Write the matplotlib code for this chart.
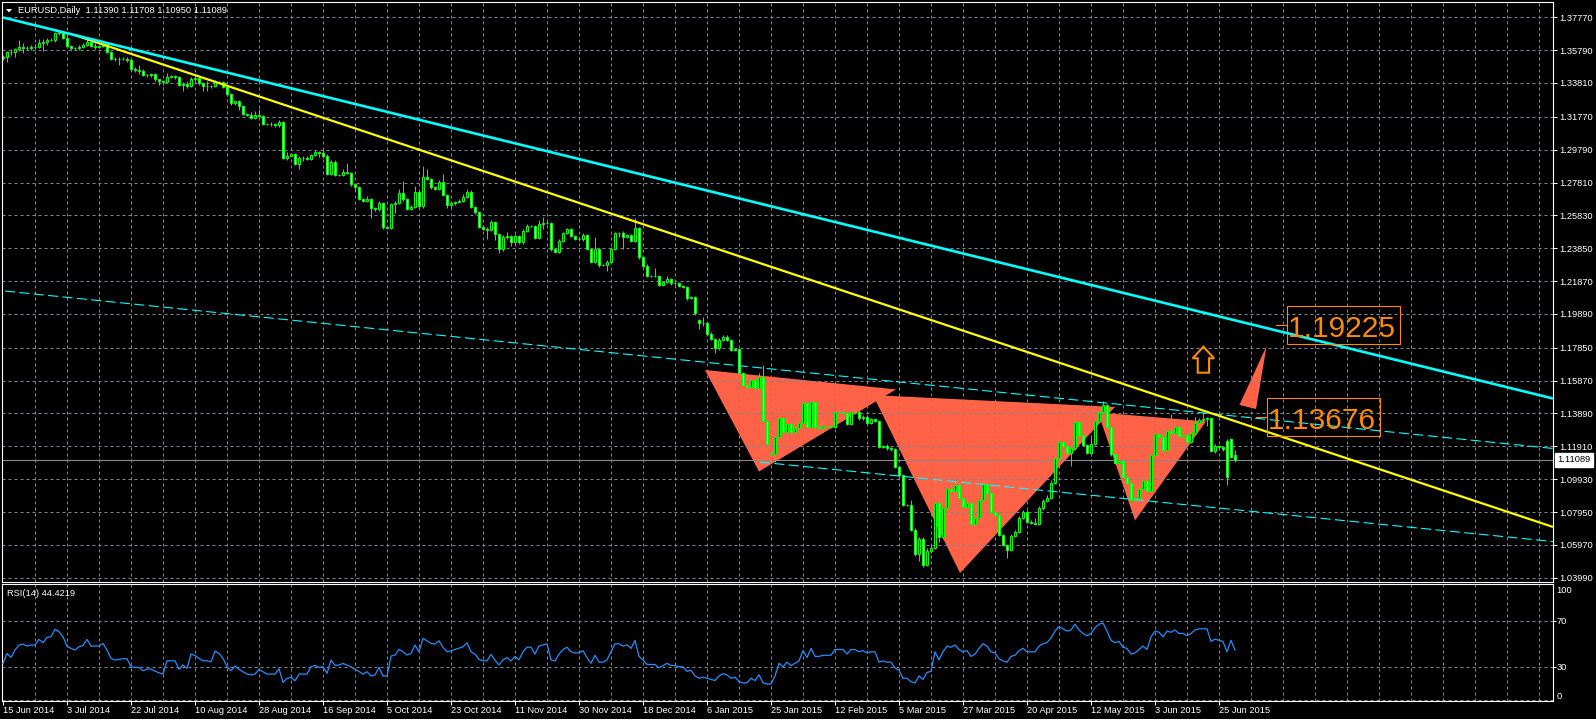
import numpy as np
import matplotlib
matplotlib.use('Agg')
import matplotlib.pyplot as plt
from matplotlib.patches import Polygon, Rectangle
from matplotlib.transforms import IdentityTransform

plt.rcParams['font.family'] = ['Liberation Sans', 'DejaVu Sans']

W, H = 1596, 719
GRID = '#778899'
CANDLE = '#00ff00'
ORANGE = '#ff8c00'

# EURUSD daily bars, 15 Jun 2014 .. end Jun 2015 (broker with Sunday bars)
opens = [
    1.3530, 1.3536, 1.3566, 1.3570, 1.3586, 1.3598, 1.3594, 1.3590, 1.3596, 1.3600,
    1.3620, 1.3626, 1.3640, 1.3640, 1.3680, 1.3686, 1.3654, 1.3604, 1.3590, 1.3590,
    1.3596, 1.3610, 1.3630, 1.3606, 1.3600, 1.3602, 1.3614, 1.3570, 1.3524, 1.3526,
    1.3526, 1.3526, 1.3522, 1.3465, 1.3459, 1.3455, 1.3429, 1.3427, 1.3433, 1.3403,
    1.3393, 1.3389, 1.3419, 1.3421, 1.3419, 1.3369, 1.3375, 1.3363, 1.3405, 1.3409,
    1.3379, 1.3365, 1.3363, 1.3361, 1.3389, 1.3385, 1.3359, 1.3313, 1.3258, 1.3272,
    1.3244, 1.3196, 1.3188, 1.3172, 1.3188, 1.3184, 1.3132, 1.3132, 1.3134, 1.3128,
    1.3144, 1.2931, 1.2943, 1.2951, 1.2891, 1.2927, 1.2931, 1.2923, 1.2947, 1.2963,
    1.2957, 1.2941, 1.2833, 1.2907, 1.2826, 1.2826, 1.2842, 1.2840, 1.2770, 1.2756,
    1.2680, 1.2672, 1.2684, 1.2625, 1.2619, 1.2659, 1.2511, 1.2505, 1.2649, 1.2659,
    1.2720, 1.2680, 1.2623, 1.2635, 1.2726, 1.2639, 1.2816, 1.2804, 1.2752, 1.2742,
    1.2786, 1.2706, 1.2643, 1.2655, 1.2661, 1.2672, 1.2692, 1.2726, 1.2631, 1.2601,
    1.2515, 1.2503, 1.2495, 1.2545, 1.2470, 1.2378, 1.2450, 1.2458, 1.2422, 1.2460,
    1.2420, 1.2489, 1.2519, 1.2519, 1.2446, 1.2529, 1.2535, 1.2539, 1.2378, 1.2364,
    1.2430, 1.2475, 1.2499, 1.2458, 1.2442, 1.2438, 1.2462, 1.2380, 1.2304, 1.2378,
    1.2284, 1.2284, 1.2302, 1.2382, 1.2475, 1.2475, 1.2451, 1.2465, 1.2431, 1.2505,
    1.2330, 1.2280, 1.2218, 1.2218, 1.2218, 1.2163, 1.2181, 1.2198, 1.2173, 1.2173,
    1.2157, 1.2153, 1.2083, 1.2089, 1.1950, 1.1932, 1.1936, 1.1868, 1.1836, 1.1786,
    1.1832, 1.1852, 1.1832, 1.1772, 1.1776, 1.1631, 1.1561, 1.1550, 1.1591, 1.1540,
    1.1611, 1.1343, 1.1150, 1.1144, 1.1245, 1.1360, 1.1275, 1.1325, 1.1275, 1.1303,
    1.1329, 1.1450, 1.1309, 1.1460, 1.1309, 1.1299, 1.1313, 1.1313, 1.1309, 1.1396,
    1.1396, 1.1390, 1.1325, 1.1396, 1.1396, 1.1360, 1.1370, 1.1333, 1.1354, 1.1345,
    1.1189, 1.1193, 1.1179, 1.1173, 1.1068, 1.1018, 1.0837, 1.0837, 1.0686, 1.0539,
    1.0632, 1.0475, 1.0561, 1.0576, 1.0851, 1.0646, 1.0817, 1.0931, 1.0923, 1.0958,
    1.0877, 1.0827, 1.0851, 1.0720, 1.0757, 1.0867, 1.0964, 1.0911, 1.0797, 1.0777,
    1.0656, 1.0596, 1.0566, 1.0650, 1.0676, 1.0757, 1.0797, 1.0736, 1.0730, 1.0722,
    1.0817, 1.0863, 1.0881, 1.0972, 1.1118, 1.1219, 1.1193, 1.1149, 1.1179, 1.1339,
    1.1259, 1.1199, 1.1153, 1.1205, 1.1345, 1.1400, 1.1440, 1.1309, 1.1142, 1.1092,
    1.1104, 1.1008, 1.0972, 1.0867, 1.0877, 1.0931, 1.0984, 1.0923, 1.1138, 1.1265,
    1.1249, 1.1169, 1.1285, 1.1273, 1.1309, 1.1253, 1.1259, 1.1219, 1.1269, 1.1329,
    1.1350, 1.1354, 1.1360, 1.1163, 1.1193, 1.1185, 1.1225, 1.1233, 1.11390,
]
highs = [
    1.3548, 1.3575, 1.3585, 1.3594, 1.3640, 1.3625, 1.3605, 1.3612, 1.3618, 1.3645,
    1.3648, 1.3652, 1.3650, 1.3690, 1.3700, 1.3692, 1.3670, 1.3612, 1.3600, 1.3608,
    1.3622, 1.3645, 1.3648, 1.3625, 1.3612, 1.3622, 1.3620, 1.3575, 1.3535, 1.3540,
    1.3535, 1.3540, 1.3528, 1.3475, 1.3488, 1.3468, 1.3436, 1.3442, 1.3440, 1.3408,
    1.3400, 1.3440, 1.3430, 1.3430, 1.3424, 1.3384, 1.3392, 1.3415, 1.3418, 1.3412,
    1.3385, 1.3396, 1.3370, 1.3400, 1.3395, 1.3390, 1.3365, 1.3318, 1.3280, 1.3278,
    1.3250, 1.3200, 1.3205, 1.3210, 1.3222, 1.3190, 1.3140, 1.3145, 1.3140, 1.3160,
    1.3150, 1.2968, 1.2958, 1.2958, 1.2938, 1.2942, 1.2940, 1.2955, 1.2978, 1.2972,
    1.2977, 1.2950, 1.2917, 1.2918, 1.2832, 1.2860, 1.2897, 1.2845, 1.2775, 1.2762,
    1.2685, 1.2700, 1.2690, 1.2632, 1.2668, 1.2665, 1.2512, 1.2660, 1.2668, 1.2740,
    1.2790, 1.2688, 1.2645, 1.2760, 1.2735, 1.2880, 1.2860, 1.2810, 1.2760, 1.2795,
    1.2835, 1.2712, 1.2668, 1.2670, 1.2680, 1.2712, 1.2745, 1.2735, 1.2638, 1.2608,
    1.2525, 1.2510, 1.2555, 1.2550, 1.2478, 1.2462, 1.2480, 1.2465, 1.2470, 1.2465,
    1.2500, 1.2532, 1.2528, 1.2525, 1.2555, 1.2575, 1.2550, 1.2545, 1.2380, 1.2440,
    1.2485, 1.2508, 1.2505, 1.2465, 1.2450, 1.2475, 1.2468, 1.2385, 1.2455, 1.2385,
    1.2290, 1.2312, 1.2392, 1.2485, 1.2485, 1.2490, 1.2472, 1.2472, 1.2570, 1.2512,
    1.2338, 1.2288, 1.2225, 1.2265, 1.2225, 1.2190, 1.2220, 1.2205, 1.2180, 1.2180,
    1.2165, 1.2160, 1.2095, 1.2095, 1.1960, 1.1970, 1.1940, 1.1880, 1.1842, 1.1845,
    1.1862, 1.1860, 1.1840, 1.1785, 1.1780, 1.1638, 1.1565, 1.1600, 1.1595, 1.1630,
    1.1680, 1.1350, 1.1160, 1.1270, 1.1425, 1.1368, 1.1360, 1.1335, 1.1320, 1.1345,
    1.1535, 1.1460, 1.1472, 1.1470, 1.1320, 1.1335, 1.1325, 1.1325, 1.1405, 1.1408,
    1.1430, 1.1398, 1.1410, 1.1410, 1.1410, 1.1378, 1.1380, 1.1362, 1.1362, 1.1352,
    1.1200, 1.1205, 1.1185, 1.1180, 1.1075, 1.1025, 1.0845, 1.0870, 1.0700, 1.0645,
    1.0645, 1.0580, 1.0600, 1.1043, 1.0890, 1.0825, 1.0945, 1.0990, 1.0985, 1.0965,
    1.0885, 1.0880, 1.0858, 1.0768, 1.0880, 1.0980, 1.1000, 1.0918, 1.0805, 1.0785,
    1.0660, 1.0605, 1.0660, 1.0685, 1.0770, 1.0810, 1.0805, 1.0745, 1.0760, 1.0830,
    1.0875, 1.0895, 1.0985, 1.1130, 1.1290, 1.1230, 1.1200, 1.1190, 1.1390, 1.1345,
    1.1265, 1.1205, 1.1260, 1.1355, 1.1420, 1.1467, 1.1448, 1.1315, 1.1150, 1.1140,
    1.1112, 1.1015, 1.0980, 1.0885, 1.0940, 1.1000, 1.0990, 1.1150, 1.1275, 1.1270,
    1.1255, 1.1300, 1.1385, 1.1325, 1.1315, 1.1268, 1.1265, 1.1278, 1.1365, 1.1360,
    1.1400, 1.1370, 1.1368, 1.1205, 1.1200, 1.1190, 1.1235, 1.1240, 1.11708,
]
lows = [
    1.3522, 1.3505, 1.3550, 1.3540, 1.3575, 1.3562, 1.3580, 1.3582, 1.3585, 1.3590,
    1.3575, 1.3608, 1.3632, 1.3630, 1.3668, 1.3645, 1.3595, 1.3580, 1.3582, 1.3578,
    1.3590, 1.3604, 1.3598, 1.3585, 1.3594, 1.3596, 1.3562, 1.3518, 1.3515, 1.3488,
    1.3518, 1.3505, 1.3458, 1.3448, 1.3436, 1.3422, 1.3420, 1.3420, 1.3395, 1.3370,
    1.3367, 1.3382, 1.3412, 1.3405, 1.3362, 1.3333, 1.3352, 1.3358, 1.3396, 1.3370,
    1.3333, 1.3333, 1.3352, 1.3355, 1.3378, 1.3350, 1.3305, 1.3250, 1.3248, 1.3218,
    1.3188, 1.3180, 1.3165, 1.3165, 1.3175, 1.3125, 1.3125, 1.3122, 1.3118, 1.3118,
    1.2920, 1.2918, 1.2940, 1.2884, 1.2860, 1.2912, 1.2915, 1.2918, 1.2940, 1.2935,
    1.2930, 1.2828, 1.2826, 1.2820, 1.2818, 1.2820, 1.2830, 1.2762, 1.2730, 1.2675,
    1.2665, 1.2665, 1.2570, 1.2610, 1.2612, 1.2500, 1.2500, 1.2500, 1.2600, 1.2652,
    1.2672, 1.2615, 1.2615, 1.2628, 1.2625, 1.2625, 1.2795, 1.2745, 1.2735, 1.2735,
    1.2698, 1.2625, 1.2625, 1.2645, 1.2655, 1.2665, 1.2688, 1.2625, 1.2590, 1.2505,
    1.2495, 1.2440, 1.2488, 1.2432, 1.2358, 1.2370, 1.2440, 1.2400, 1.2410, 1.2410,
    1.2412, 1.2480, 1.2510, 1.2438, 1.2440, 1.2500, 1.2530, 1.2370, 1.2355, 1.2358,
    1.2422, 1.2468, 1.2450, 1.2435, 1.2430, 1.2430, 1.2372, 1.2295, 1.2298, 1.2270,
    1.2278, 1.2245, 1.2295, 1.2375, 1.2455, 1.2379, 1.2445, 1.2420, 1.2425, 1.2322,
    1.2272, 1.2210, 1.2212, 1.2210, 1.2160, 1.2160, 1.2175, 1.2165, 1.2165, 1.2150,
    1.2145, 1.2075, 1.2078, 1.1985, 1.1900, 1.1918, 1.1860, 1.1830, 1.1755, 1.1770,
    1.1826, 1.1825, 1.1765, 1.1765, 1.1625, 1.1555, 1.1545, 1.1545, 1.1535, 1.1535,
    1.1335, 1.1198, 1.1098, 1.1098, 1.1235, 1.1262, 1.1268, 1.1265, 1.1268, 1.1295,
    1.1320, 1.1300, 1.1300, 1.1295, 1.1290, 1.1280, 1.1305, 1.1300, 1.1300, 1.1388,
    1.1380, 1.1318, 1.1318, 1.1385, 1.1352, 1.1350, 1.1325, 1.1325, 1.1335, 1.1180,
    1.1182, 1.1170, 1.1165, 1.1060, 1.1000, 1.0830, 1.0830, 1.0680, 1.0530, 1.0500,
    1.0462, 1.0468, 1.0545, 1.0570, 1.0615, 1.0630, 1.0810, 1.0915, 1.0915, 1.0868,
    1.0820, 1.0820, 1.0712, 1.0715, 1.0750, 1.0858, 1.0905, 1.0790, 1.0770, 1.0650,
    1.0590, 1.0520, 1.0560, 1.0645, 1.0670, 1.0750, 1.0730, 1.0722, 1.0715, 1.0715,
    1.0810, 1.0855, 1.0875, 1.0965, 1.1110, 1.1185, 1.1140, 1.1075, 1.1170, 1.1250,
    1.1190, 1.1145, 1.1145, 1.1198, 1.1335, 1.1392, 1.1300, 1.1135, 1.1085, 1.1080,
    1.1000, 1.0965, 1.0860, 1.0818, 1.0870, 1.0925, 1.0915, 1.0915, 1.1130, 1.1240,
    1.1160, 1.1160, 1.1265, 1.1265, 1.1245, 1.1248, 1.1210, 1.1212, 1.1262, 1.1322,
    1.1342, 1.1315, 1.1155, 1.1150, 1.1175, 1.1165, 1.0955, 1.1120, 1.10950,
]
closes = [
    1.3536, 1.3566, 1.3570, 1.3586, 1.3598, 1.3594, 1.3590, 1.3596, 1.3600, 1.3620,
    1.3626, 1.3640, 1.3640, 1.3680, 1.3686, 1.3654, 1.3604, 1.3590, 1.3590, 1.3596,
    1.3610, 1.3630, 1.3606, 1.3600, 1.3602, 1.3614, 1.3570, 1.3524, 1.3526, 1.3526,
    1.3526, 1.3522, 1.3465, 1.3459, 1.3455, 1.3429, 1.3427, 1.3433, 1.3403, 1.3393,
    1.3389, 1.3419, 1.3421, 1.3419, 1.3369, 1.3375, 1.3363, 1.3405, 1.3409, 1.3379,
    1.3365, 1.3363, 1.3361, 1.3389, 1.3385, 1.3359, 1.3313, 1.3258, 1.3272, 1.3244,
    1.3196, 1.3188, 1.3172, 1.3188, 1.3184, 1.3132, 1.3132, 1.3134, 1.3128, 1.3144,
    1.2931, 1.2943, 1.2951, 1.2891, 1.2927, 1.2931, 1.2923, 1.2947, 1.2963, 1.2957,
    1.2941, 1.2833, 1.2907, 1.2826, 1.2826, 1.2842, 1.2840, 1.2770, 1.2756, 1.2680,
    1.2672, 1.2684, 1.2625, 1.2619, 1.2659, 1.2511, 1.2505, 1.2649, 1.2659, 1.2720,
    1.2680, 1.2623, 1.2635, 1.2726, 1.2639, 1.2816, 1.2804, 1.2752, 1.2742, 1.2786,
    1.2706, 1.2643, 1.2655, 1.2661, 1.2672, 1.2692, 1.2726, 1.2631, 1.2601, 1.2515,
    1.2503, 1.2495, 1.2545, 1.2470, 1.2378, 1.2450, 1.2458, 1.2422, 1.2460, 1.2420,
    1.2489, 1.2519, 1.2519, 1.2446, 1.2529, 1.2535, 1.2539, 1.2378, 1.2364, 1.2430,
    1.2475, 1.2499, 1.2458, 1.2442, 1.2438, 1.2462, 1.2380, 1.2304, 1.2378, 1.2284,
    1.2284, 1.2302, 1.2382, 1.2475, 1.2475, 1.2451, 1.2465, 1.2431, 1.2505, 1.2330,
    1.2280, 1.2218, 1.2218, 1.2218, 1.2163, 1.2181, 1.2198, 1.2173, 1.2173, 1.2157,
    1.2153, 1.2083, 1.2089, 1.1993, 1.1932, 1.1936, 1.1868, 1.1836, 1.1786, 1.1832,
    1.1852, 1.1832, 1.1772, 1.1776, 1.1631, 1.1561, 1.1550, 1.1591, 1.1540, 1.1611,
    1.1343, 1.1203, 1.1144, 1.1245, 1.1360, 1.1275, 1.1325, 1.1275, 1.1303, 1.1329,
    1.1450, 1.1309, 1.1460, 1.1309, 1.1299, 1.1313, 1.1313, 1.1309, 1.1396, 1.1396,
    1.1390, 1.1325, 1.1396, 1.1396, 1.1360, 1.1370, 1.1333, 1.1354, 1.1345, 1.1189,
    1.1193, 1.1179, 1.1173, 1.1068, 1.1018, 1.0837, 1.0837, 1.0686, 1.0539, 1.0632,
    1.0475, 1.0561, 1.0576, 1.0851, 1.0646, 1.0817, 1.0931, 1.0923, 1.0958, 1.0877,
    1.0827, 1.0851, 1.0720, 1.0757, 1.0867, 1.0964, 1.0911, 1.0797, 1.0777, 1.0656,
    1.0596, 1.0566, 1.0650, 1.0676, 1.0757, 1.0797, 1.0736, 1.0730, 1.0722, 1.0817,
    1.0863, 1.0881, 1.0972, 1.1118, 1.1219, 1.1193, 1.1149, 1.1179, 1.1339, 1.1259,
    1.1199, 1.1153, 1.1205, 1.1345, 1.1400, 1.1440, 1.1309, 1.1142, 1.1092, 1.1104,
    1.1008, 1.0972, 1.0867, 1.0877, 1.0931, 1.0984, 1.0923, 1.1138, 1.1265, 1.1249,
    1.1169, 1.1285, 1.1273, 1.1309, 1.1253, 1.1259, 1.1219, 1.1269, 1.1329, 1.1350,
    1.1354, 1.1360, 1.1163, 1.1193, 1.1185, 1.1173, 1.1004, 1.1128, 1.11089,
]
rsi = [
    32.9, 41.6, 38.1, 44.5, 48.9, 49.7, 48.0, 48.9, 48.9, 53.8,
    50.9, 55.5, 56.1, 62.5, 60.5, 56.1, 48.0, 46.0, 44.5, 47.4,
    48.6, 53.8, 48.0, 48.0, 48.0, 50.3, 44.5, 37.3, 35.8, 36.4,
    37.0, 37.0, 30.0, 29.4, 29.4, 26.5, 28.0, 28.0, 26.2, 24.8,
    23.6, 35.2, 35.2, 35.2, 27.7, 31.5, 28.6, 41.0, 39.9, 37.3,
    35.2, 35.2, 34.3, 43.6, 41.6, 37.3, 30.0, 26.5, 30.6, 27.7,
    25.7, 23.6, 23.0, 23.6, 27.7, 25.7, 23.6, 23.6, 23.6, 28.3,
    16.4, 19.9, 20.7, 17.8, 23.6, 23.6, 23.6, 30.0, 31.2, 29.4,
    30.0, 24.2, 35.8, 31.2, 31.5, 32.9, 31.5, 30.0, 27.7, 25.9,
    23.6, 25.7, 21.9, 22.8, 29.4, 21.9, 21.9, 39.3, 40.2, 45.1,
    43.0, 40.2, 41.6, 48.9, 43.0, 54.7, 52.6, 50.3, 49.7, 52.6,
    46.8, 43.0, 43.9, 45.1, 46.2, 47.4, 50.9, 43.0, 41.0, 36.4,
    35.2, 35.2, 40.7, 35.8, 31.5, 36.0, 38.0, 35.0, 39.0, 36.0,
    43.0, 47.0, 47.0, 41.0, 48.0, 49.0, 50.0, 36.0, 35.0, 41.0,
    45.0, 47.0, 43.0, 42.0, 42.0, 44.0, 38.0, 33.0, 40.0, 34.0,
    34.0, 36.0, 43.0, 50.0, 50.0, 48.0, 49.0, 46.0, 53.0, 39.0,
    36.0, 32.0, 32.0, 32.0, 29.0, 31.0, 33.0, 31.0, 31.0, 30.0,
    30.0, 26.0, 27.0, 22.0, 20.0, 21.0, 20.0, 19.0, 18.0, 22.0,
    24.0, 23.0, 20.0, 21.0, 17.0, 16.0, 16.0, 20.0, 18.0, 23.0,
    16.0, 15.0, 15.0, 22.0, 33.0, 30.0, 34.0, 31.0, 33.0, 35.0,
    44.0, 38.0, 46.0, 39.0, 39.0, 40.0, 40.0, 40.0, 45.0, 45.0,
    45.0, 41.0, 45.0, 45.0, 43.0, 44.0, 42.0, 43.0, 43.0, 34.0,
    35.0, 34.0, 34.0, 29.0, 27.0, 20.0, 20.0, 17.0, 16.0, 22.0,
    19.0, 25.0, 26.0, 43.0, 36.0, 43.0, 48.0, 47.0, 49.0, 45.0,
    43.0, 44.0, 39.0, 41.0, 46.0, 50.0, 48.0, 43.0, 42.0, 37.0,
    35.0, 34.0, 39.0, 40.0, 44.0, 46.0, 43.0, 43.0, 43.0, 48.0,
    50.0, 51.0, 55.0, 61.0, 65.0, 63.0, 61.0, 62.0, 67.0, 62.0,
    59.0, 57.0, 59.0, 64.0, 67.0, 68.0, 61.0, 53.0, 51.0, 52.0,
    47.0, 46.0, 41.0, 42.0, 45.0, 48.0, 45.0, 56.0, 61.0, 60.0,
    56.0, 61.0, 60.0, 62.0, 59.0, 59.0, 57.0, 59.0, 62.0, 63.0,
    63.0, 63.0, 52.0, 54.0, 53.0, 52.0, 43.0, 53.0, 44.4219,
]

date_labels = ['15 Jun 2014', '3 Jul 2014', '22 Jul 2014', '10 Aug 2014', '28 Aug 2014',
               '16 Sep 2014', '5 Oct 2014', '23 Oct 2014', '11 Nov 2014', '30 Nov 2014',
               '18 Dec 2014', '6 Jan 2015', '25 Jan 2015', '12 Feb 2015', '5 Mar 2015',
               '27 Mar 2015', '20 Apr 2015', '12 May 2015', '3 Jun 2015', '25 Jun 2015']
price_ticks = [1.37770, 1.35790, 1.33810, 1.31770, 1.29790, 1.27810, 1.25830, 1.23850, 1.21870,
               1.19890, 1.17850, 1.15870, 1.13890, 1.11910, 1.09930, 1.07950, 1.05970, 1.03990]
rsi_levels = [70, 30]

# chart objects: (bar index, price) anchors
cyan_line = [(0, 1.3776), (387.5, 1.1479)]
yellow_line = [(18, 1.3669), (387.5, 1.0705)]
channel_upper = [(0.5, 1.2127), (387.5, 1.1178)]
channel_lower = [(189.25, 1.1096), (387.5, 1.0617)]
triangles = [
    [(175.5, 1.1651), (189.0, 1.1039), (223.25, 1.1534)],
    [(217.5, 1.1500), (239.25, 1.0427), (278.0, 1.1428)],
    [(273.75, 1.1395), (283.0, 1.0744), (300.75, 1.1341)],
    [(315.9, 1.1796), (309.1, 1.1440), (313.25, 1.1416)],
]
price_labels = [1.19225, 1.13676]
price_label_bars = [318.25, 313.25]
arrow_bar, arrow_top, arrow_neck, arrow_bottom = 300.1, 1.17914, 1.17215, 1.16348

fig = plt.figure(figsize=(W / 100, H / 100), dpi=100, facecolor='black')


def box(x0, y0, x1, y1):
    return [x0 / W, 1 - y1 / H, (x1 - x0) / W, (y1 - y0) / H]


ax = fig.add_axes(box(2, 2, 1553, 582))
ax_rsi = fig.add_axes(box(2, 584, 1553, 701))

dash = (0, (3, 3))
for a in (ax, ax_rsi):
    a.set_facecolor('black')
    for s in a.spines.values():
        s.set_color('white')
        s.set_linewidth(0.8)
    a.set_xlim(-0.25, 387.5)
    for b in range(8, 388, 8):
        a.axvline(b, color=GRID, lw=0.72, ls=dash, zorder=0.5)

# price panel
ax.set_ylim(1.03731, 1.38692)
ax.set_xticks([])
ax.yaxis.tick_right()
ax.set_yticks(price_ticks)
ax.set_yticklabels(['%.5f' % p for p in price_ticks])
ax.tick_params(axis='y', length=2.9, width=0.72, color='white', labelcolor='white',
               labelsize=6.7, pad=1.5)
for p in price_ticks:
    ax.axhline(p, color=GRID, lw=0.72, ls=dash, zorder=0.5)

for tri in triangles:
    ax.add_patch(Polygon(tri, closed=True, facecolor='#ff6347', edgecolor='none', zorder=0.2))

ax.axhline(closes[-1], color='#8a8a8a', lw=0.8, zorder=1)

x = np.arange(len(closes))
o, h, l, c = (np.array(v) for v in (opens, highs, lows, closes))
ax.vlines(x, l, h, color=CANDLE, lw=0.72, zorder=2)
fill = np.where(c < o, 'white', 'black')
ax.bar(x, np.abs(c - o), bottom=np.minimum(o, c), width=0.62, color=fill,
       edgecolor=CANDLE, linewidth=0.72, zorder=2.2)

for ln in (channel_upper, channel_lower):
    ax.plot([ln[0][0], ln[1][0]], [ln[0][1], ln[1][1]], color='#00ffff', lw=0.8,
            ls=(0, (9, 4)), zorder=3)
ax.plot([yellow_line[0][0], yellow_line[1][0]], [yellow_line[0][1], yellow_line[1][1]],
        color='#ffff00', lw=1.6, zorder=3.2, solid_capstyle='butt')
ax.plot([cyan_line[0][0], cyan_line[1][0]], [cyan_line[0][1], cyan_line[1][1]],
        color='#00ffff', lw=1.9, zorder=3.4, solid_capstyle='butt')

# up arrow symbol
hw, sw = 2.67, 1.42
arrow = [(arrow_bar, arrow_top), (arrow_bar + hw, arrow_neck), (arrow_bar + sw, arrow_neck),
         (arrow_bar + sw, arrow_bottom), (arrow_bar - sw, arrow_bottom),
         (arrow_bar - sw, arrow_neck), (arrow_bar - hw, arrow_neck)]
ax.add_patch(Polygon(arrow, closed=True, fill=False, edgecolor=ORANGE, lw=1.5, zorder=4))

# price label objects
for p, b in zip(price_labels, price_label_bars):
    ax.plot([b, b + 2.65], [p, p], color=ORANGE, lw=0.8, zorder=4)
    ax.add_patch(Rectangle((b + 2.65, p - 0.0114), 28.3, 0.0228, fill=False,
                           edgecolor=ORANGE, lw=0.8, zorder=4))
    ax.text(b + 3.05, p - 0.0072, '%.5f' % p, color=ORANGE, fontsize=21.5,
            ha='left', va='baseline', zorder=5)

ax.text(1.0026, closes[-1], '%.5f' % closes[-1], transform=ax.get_yaxis_transform(),
        color='black', fontsize=6.7, ha='left', va='center', clip_on=False,
        bbox=dict(boxstyle='square,pad=0.25', fc='white', ec='white'))

# RSI panel
ax_rsi.set_ylim(0.2, 102)
ax_rsi.plot(x, rsi, color='#1e90ff', lw=0.9, zorder=3)
for lv in rsi_levels + [1]:
    ax_rsi.axhline(lv, color=GRID, lw=0.72, ls=dash, zorder=0.5)
ax_rsi.yaxis.tick_right()
ax_rsi.set_yticks(rsi_levels)
ax_rsi.set_yticklabels([str(v) for v in rsi_levels])
ax_rsi.tick_params(axis='y', length=2.2, width=0.72, color='white', labelcolor='white',
                   labelsize=6.7, pad=0.5)
ax_rsi.text(1.0024, 100, '100', transform=ax_rsi.get_yaxis_transform(), color='white',
            fontsize=6.7, ha='left', va='top', clip_on=False)
ax_rsi.text(1.0024, 0.5, '0', transform=ax_rsi.get_yaxis_transform(), color='white',
            fontsize=6.7, ha='left', va='bottom', clip_on=False)
ax_rsi.set_xticks(np.arange(len(date_labels)) * 16)
ax_rsi.set_xticklabels(date_labels)
ax_rsi.tick_params(axis='x', length=2.9, width=0.72, color='white', labelcolor='white',
                   labelsize=6.7, pad=0.5)
for t in ax_rsi.get_xticklabels():
    t.set_ha('left')

ax_rsi.text(5 / 1551, 1 - 10 / 117, 'RSI(14) %.4f' % rsi[-1], transform=ax_rsi.transAxes,
            color='white', fontsize=6.7, ha='left', va='center')

# header
fig.text(18 / W, 1 - 10.7 / H, 'EURUSD,Daily  %.5f %.5f %.5f %.5f'
         % (opens[-1], highs[-1], lows[-1], closes[-1]),
         color='white', fontsize=6.7, ha='left', va='center')
fig.add_artist(Polygon([(6, H - 9), (12, H - 9), (9, H - 12.5)], closed=True,
                       facecolor='white', edgecolor='none', transform=IdentityTransform()))

fig.savefig('out.png', dpi=100, facecolor='black')
